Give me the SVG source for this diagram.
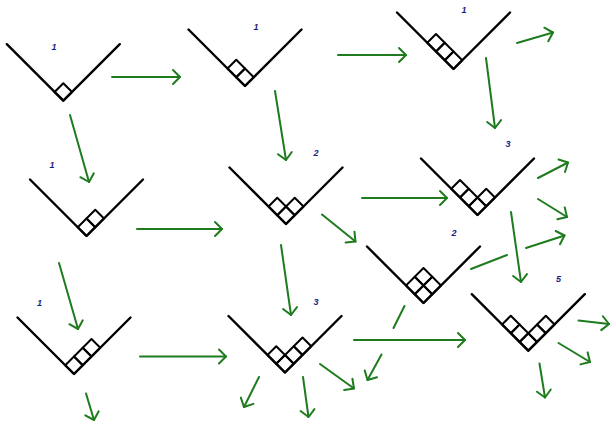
<svg xmlns="http://www.w3.org/2000/svg" xmlns:xlink="http://www.w3.org/1999/xlink" width="610" height="423" viewBox="0 0 610 423">
  <style>
    .arm { fill: none; stroke: #000; stroke-width: 2.4; stroke-linecap: round; stroke-linejoin: round; }
    .cell { fill: none; stroke: #000; stroke-width: 2; stroke-linejoin: round; }
    .lbl { font-family: "Liberation Sans", Arial, sans-serif; font-size: 9px; font-weight: bold; font-style: italic; fill: #1c1c80; text-anchor: middle; }
    .edge { fill: none; stroke: #1e7b1e; stroke-width: 2; stroke-linecap: round; }
  </style>
  <defs>
    <!-- the V-shaped corner, drawn with its vertex at the origin -->
    <path id="v" class="arm" d="M-56.5,-56.5 L0,0 L56.5,-56.5"/>
    <!-- one tilted box, centred at the origin -->
    <polygon id="c" class="cell" points="0,-8.75 8.75,0 0,8.75 -8.75,0"/>
    <marker id="head" markerUnits="userSpaceOnUse" markerWidth="20" markerHeight="20" refX="0" refY="0" viewBox="-10 -10 20 20" orient="auto" overflow="visible">
      <path d="M-7,-7 L0,0 L-7,7" fill="none" stroke="#1e7b1e" stroke-width="2" stroke-linecap="round" stroke-linejoin="round"/>
    </marker>
  </defs>
  <rect width="610" height="423" fill="#fff"/>

  <g id="connectors">
    <line class="edge" x1="112" y1="77" x2="180" y2="77" marker-end="url(#head)"/>
    <line class="edge" x1="338" y1="55" x2="406" y2="55" marker-end="url(#head)"/>
    <line class="edge" x1="517" y1="43" x2="553" y2="32.5" marker-end="url(#head)"/>
    <line class="edge" x1="70" y1="115" x2="89" y2="182" marker-end="url(#head)"/>
    <line class="edge" x1="275" y1="91" x2="286" y2="160" marker-end="url(#head)"/>
    <line class="edge" x1="486" y1="58" x2="495" y2="128" marker-end="url(#head)"/>
    <line class="edge" x1="137" y1="229" x2="222" y2="229" marker-end="url(#head)"/>
    <line class="edge" x1="362" y1="198" x2="447" y2="198" marker-end="url(#head)"/>
    <line class="edge" x1="322" y1="214.5" x2="355.5" y2="241.5" marker-end="url(#head)"/>
    <line class="edge" x1="538" y1="178" x2="568" y2="162.5" marker-end="url(#head)"/>
    <line class="edge" x1="538" y1="199" x2="567" y2="217" marker-end="url(#head)"/>
    <line class="edge" x1="511" y1="212" x2="521" y2="282" marker-end="url(#head)"/>
    <line class="edge" x1="471" y1="269" x2="507" y2="255"/>
    <line class="edge" x1="526" y1="248" x2="564.5" y2="235.5" marker-end="url(#head)"/>
    <line class="edge" x1="404.5" y1="306" x2="393.5" y2="328"/>
    <line class="edge" x1="381.5" y1="354.5" x2="367.5" y2="380" marker-end="url(#head)"/>
    <line class="edge" x1="354" y1="340" x2="465" y2="340" marker-end="url(#head)"/>
    <line class="edge" x1="140" y1="356.5" x2="226" y2="356.5" marker-end="url(#head)"/>
    <line class="edge" x1="59" y1="263" x2="78" y2="329" marker-end="url(#head)"/>
    <line class="edge" x1="281" y1="245" x2="291" y2="315" marker-end="url(#head)"/>
    <line class="edge" x1="86" y1="393.5" x2="94" y2="420" marker-end="url(#head)"/>
    <line class="edge" x1="259" y1="377" x2="244" y2="407" marker-end="url(#head)"/>
    <line class="edge" x1="303" y1="377" x2="308.5" y2="417" marker-end="url(#head)"/>
    <line class="edge" x1="320" y1="364" x2="354" y2="388.5" marker-end="url(#head)"/>
    <line class="edge" x1="578.5" y1="320.5" x2="609" y2="324" marker-end="url(#head)"/>
    <line class="edge" x1="558.5" y1="343" x2="590" y2="362" marker-end="url(#head)"/>
    <line class="edge" x1="539.5" y1="363.5" x2="545" y2="397.5" marker-end="url(#head)"/>
  </g>

  <g id="n1" transform="translate(63.3,100.7)">
    <use xlink:href="#v"/>
    <use xlink:href="#c" x="0" y="-8.75"/>
    <text class="lbl" x="-9.3" y="-50.7">1</text>
  </g>
  <g id="n2" transform="translate(245,86)">
    <use xlink:href="#v"/>
    <use xlink:href="#c" x="0" y="-8.75"/>
    <use xlink:href="#c" x="-8.75" y="-17.5"/>
    <text class="lbl" x="11" y="-56">1</text>
  </g>
  <g id="n3" transform="translate(453.5,69)">
    <use xlink:href="#v"/>
    <use xlink:href="#c" x="0" y="-8.75"/>
    <use xlink:href="#c" x="-8.75" y="-17.5"/>
    <use xlink:href="#c" x="-17.5" y="-26.25"/>
    <text class="lbl" x="10.5" y="-56">1</text>
  </g>
  <g id="n4" transform="translate(86.5,236)">
    <use xlink:href="#v"/>
    <use xlink:href="#c" x="0" y="-8.75"/>
    <use xlink:href="#c" x="8.75" y="-17.5"/>
    <text class="lbl" x="-34.5" y="-68">1</text>
  </g>
  <g id="n5" transform="translate(286,224)">
    <use xlink:href="#v"/>
    <use xlink:href="#c" x="0" y="-8.75"/>
    <use xlink:href="#c" x="8.75" y="-17.5"/>
    <use xlink:href="#c" x="-8.75" y="-17.5"/>
    <text class="lbl" x="30" y="-68">2</text>
  </g>
  <g id="n6" transform="translate(477.5,215)">
    <use xlink:href="#v"/>
    <use xlink:href="#c" x="0" y="-8.75"/>
    <use xlink:href="#c" x="-8.75" y="-17.5"/>
    <use xlink:href="#c" x="-17.5" y="-26.25"/>
    <use xlink:href="#c" x="8.75" y="-17.5"/>
    <text class="lbl" x="30.5" y="-68">3</text>
  </g>
  <g id="n7" transform="translate(423.5,303)">
    <use xlink:href="#v"/>
    <use xlink:href="#c" x="0" y="-8.75"/>
    <use xlink:href="#c" x="8.75" y="-17.5"/>
    <use xlink:href="#c" x="-8.75" y="-17.5"/>
    <use xlink:href="#c" x="0" y="-26.25"/>
    <text class="lbl" x="30.5" y="-67">2</text>
  </g>
  <g id="n8" transform="translate(528.3,350.7)">
    <use xlink:href="#v"/>
    <use xlink:href="#c" x="0" y="-8.75"/>
    <use xlink:href="#c" x="-8.75" y="-17.5"/>
    <use xlink:href="#c" x="-17.5" y="-26.25"/>
    <use xlink:href="#c" x="8.75" y="-17.5"/>
    <use xlink:href="#c" x="17.5" y="-26.25"/>
    <text class="lbl" x="30.2" y="-68.7">5</text>
  </g>
  <g id="n9" transform="translate(74,374)">
    <use xlink:href="#v"/>
    <use xlink:href="#c" x="0" y="-8.75"/>
    <use xlink:href="#c" x="8.75" y="-17.5"/>
    <use xlink:href="#c" x="17.5" y="-26.25"/>
    <text class="lbl" x="-34.5" y="-68.5">1</text>
  </g>
  <g id="n10" transform="translate(285,372.5)">
    <use xlink:href="#v"/>
    <use xlink:href="#c" x="0" y="-8.75"/>
    <use xlink:href="#c" x="-8.75" y="-17.5"/>
    <use xlink:href="#c" x="8.75" y="-17.5"/>
    <use xlink:href="#c" x="17.5" y="-26.25"/>
    <text class="lbl" x="31" y="-68">3</text>
  </g>
</svg>
